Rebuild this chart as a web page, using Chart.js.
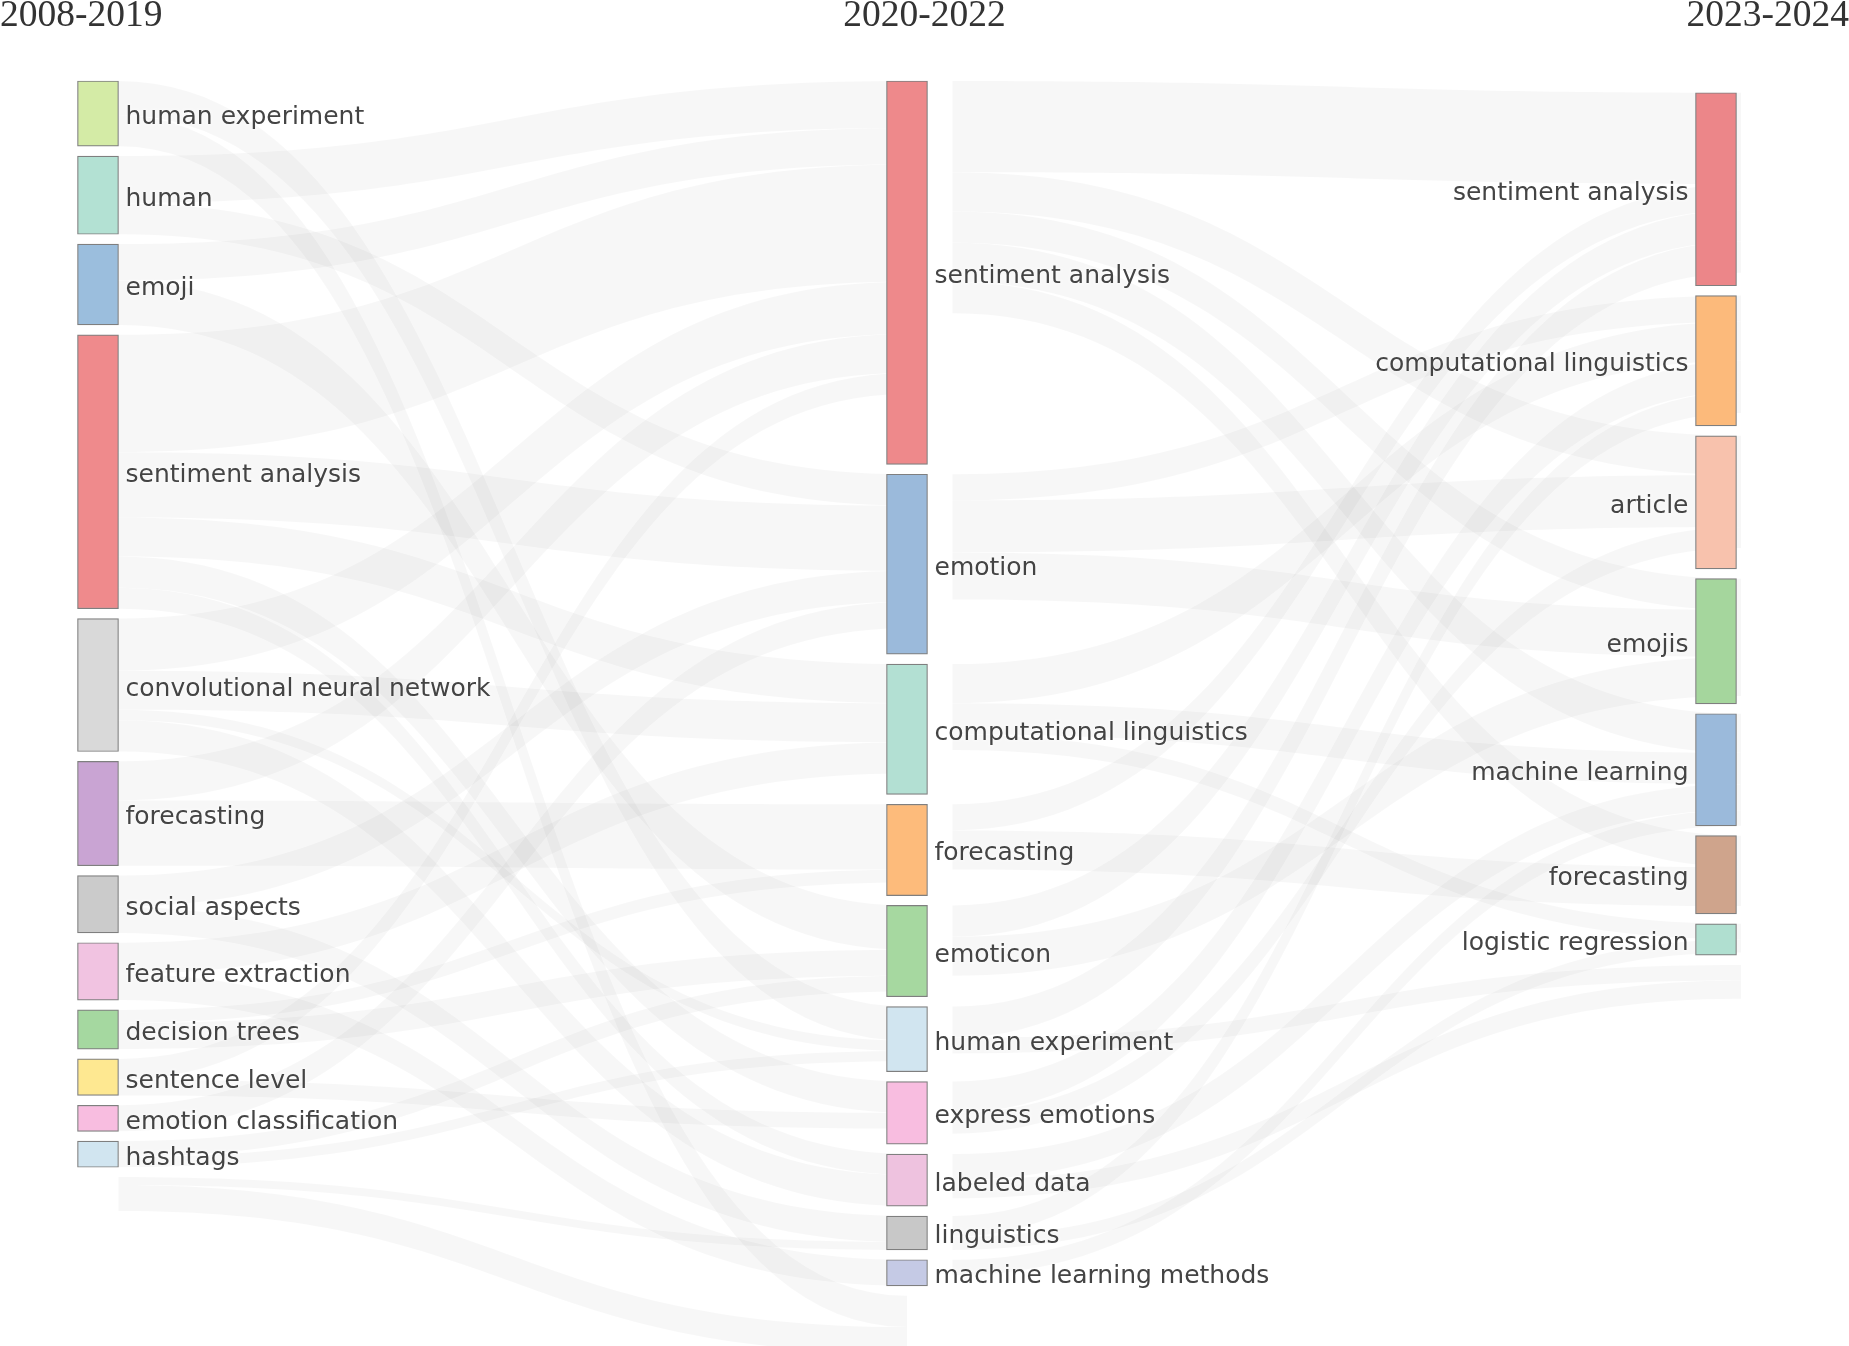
<!DOCTYPE html>
<html>
<head>
<meta charset="utf-8">
<title>Keyword evolution</title>
<script src="https://cdn.jsdelivr.net/npm/chart.js@4.4.1/dist/chart.umd.min.js"></script>
<style>
  html, body { margin: 0; padding: 0; background: #fff; }
  #wrap { width: 1849px; height: 1346px; }
</style>
</head>
<body>
<div id="wrap"><canvas id="myChart"></canvas></div>
<script>
"use strict";

// periods (one column each)
const periods = ["2008-2019", "2020-2022", "2023-2024"];

// keywords and their weights per period ("" = unlabelled spacer node)
const terms2008 = ["human experiment", "human", "emoji", "sentiment analysis", "convolutional neural network", "forecasting", "social aspects", "feature extraction", "decision trees", "sentence level", "emotion classification", "hashtags", ""];
const counts2008 = [25, 30, 31, 105, 51, 40, 22, 22, 15, 14, 10, 10, 14];

const terms2020 = ["sentiment analysis", "emotion", "computational linguistics", "forecasting", "emoticon", "human experiment", "express emotions", "labeled data", "linguistics", "machine learning methods", ""];
const counts2020 = [147, 69, 50, 35, 35, 25, 24, 20, 13, 10, 22];

const terms2023 = ["sentiment analysis", "computational linguistics", "article", "emojis", "machine learning", "forecasting", "logistic regression", ""];
const counts2023 = [74, 50, 51, 48, 43, 30, 12, 13];

// flows 2008-2019 -> 2020-2022
const flowsEarly = [
  ["human experiment", "human experiment", 13],
  ["human experiment", "", 12],
  ["human", "sentiment analysis", 18],
  ["human", "emotion", 12],
  ["emoji", "sentiment analysis", 14],
  ["emoji", "emoticon", 17],
  ["sentiment analysis", "sentiment analysis", 45],
  ["sentiment analysis", "emotion", 25],
  ["sentiment analysis", "computational linguistics", 15],
  ["sentiment analysis", "express emotions", 12],
  ["sentiment analysis", "labeled data", 8],
  ["convolutional neural network", "sentiment analysis", 20],
  ["convolutional neural network", "computational linguistics", 15],
  ["convolutional neural network", "human experiment", 4],
  ["convolutional neural network", "labeled data", 12],
  ["forecasting", "sentiment analysis", 15],
  ["forecasting", "forecasting", 25],
  ["social aspects", "emotion", 12],
  ["social aspects", "linguistics", 10],
  ["feature extraction", "computational linguistics", 12],
  ["feature extraction", "machine learning methods", 10],
  ["decision trees", "forecasting", 5],
  ["decision trees", "emoticon", 10],
  ["sentence level", "sentiment analysis", 8],
  ["sentence level", "express emotions", 6],
  ["emotion classification", "emotion", 10],
  ["hashtags", "emoticon", 6],
  ["hashtags", "human experiment", 4],
  ["", "linguistics", 3],
  ["", "", 10],
];

// flows 2020-2022 -> 2023-2024
const flowsLate = [
  ["sentiment analysis", "sentiment analysis", 35],
  ["sentiment analysis", "article", 15],
  ["sentiment analysis", "emojis", 12],
  ["sentiment analysis", "machine learning", 15],
  ["sentiment analysis", "forecasting", 12],
  ["emotion", "computational linguistics", 10],
  ["emotion", "article", 20],
  ["emotion", "emojis", 18],
  ["computational linguistics", "computational linguistics", 15],
  ["computational linguistics", "machine learning", 12],
  ["computational linguistics", "logistic regression", 6],
  ["forecasting", "sentiment analysis", 10],
  ["forecasting", "forecasting", 15],
  ["emoticon", "sentiment analysis", 12],
  ["emoticon", "emojis", 15],
  ["human experiment", "sentiment analysis", 12],
  ["human experiment", "", 6],
  ["express emotions", "computational linguistics", 12],
  ["express emotions", "article", 8],
  ["labeled data", "machine learning", 10],
  ["labeled data", "", 7],
  ["linguistics", "computational linguistics", 8],
  ["linguistics", "logistic regression", 5],
  ["machine learning methods", "machine learning", 6],
];

// node colours
const colors2008 = ["#d4eba6", "#b3e1d3", "#9bbedd", "#ef8a8c", "#d9d9d9", "#c9a4d3", "#cbcbcb", "#f1c3e1", "#a5d8a0", "#fee891", "#f8bde0", "#d1e5f0", "rgba(0,0,0,0)"];
const colors2020 = ["#ee898b", "#9bbadb", "#b3e0d3", "#fdbb7b", "#a6d8a0", "#d1e5f0", "#f8bde0", "#eec2df", "#c8c8c8", "#c5cae5", "rgba(0,0,0,0)"];
const colors2023 = ["#ec8689", "#fcba7b", "#f8c2ad", "#a5d69d", "#9bbadb", "#cfa48c", "#b0dfd0", "rgba(0,0,0,0)"];

const nodeWidth = 41;
const nodeGap = 3.77;
const columnTop = [0, 0, 4.5];
const linkStartPad = [0, 25, 0];
const linkEndShift = [0, 0, 25];
const labelDrop = 4;
const yMax = 485;

const columns = [
  { terms: terms2008, counts: counts2008, colors: colors2008 },
  { terms: terms2020, counts: counts2020, colors: colors2020 },
  { terms: terms2023, counts: counts2023, colors: colors2023 },
];

// stack nodes in each column
const nodes = [];
columns.forEach((c, col) => {
  let y = columnTop[col];
  c.terms.forEach((t, i) => {
    nodes.push({ col: col, name: t, y0: y, y1: y + c.counts[i], color: c.colors[i], out: [], in: [] });
    y += c.counts[i] + nodeGap;
  });
});

function findNode(col, name) {
  return nodes.find((n) => n.col === col && n.name === name);
}

const links = [];
[flowsEarly, flowsLate].forEach((flows, step) => {
  flows.forEach((f) => {
    const link = { source: findNode(step, f[0]), target: findNode(step + 1, f[1]), value: f[2] };
    link.source.out.push(link);
    link.target.in.push(link);
    links.push(link);
  });
});

// order ribbons at each node side by the position of the other end
nodes.forEach((n) => {
  let off = n.y0;
  n.out.sort((a, b) => a.target.y0 - b.target.y0).forEach((l) => {
    l.sy = off;
    off += l.value;
  });
  off = n.y0;
  n.in.sort((a, b) => a.source.y0 - b.source.y0).forEach((l) => {
    l.ty = off;
    off += l.value;
  });
});

const flowPlugin = {
  id: "flows",
  beforeDatasetsDraw(chart) {
    const ctx = chart.ctx;
    const x = chart.scales.x;
    const y = chart.scales.y;
    ctx.save();
    ctx.fillStyle = "rgba(0,0,0,0.032)";
    links.forEach((l) => {
      const x0 = x.getPixelForValue(l.source.col) + nodeWidth / 2 + linkStartPad[l.source.col];
      const x1 = x.getPixelForValue(l.target.col) + linkEndShift[l.target.col];
      const s0 = y.getPixelForValue(l.sy);
      const s1 = y.getPixelForValue(l.sy + l.value);
      const t0 = y.getPixelForValue(l.ty);
      const t1 = y.getPixelForValue(l.ty + l.value);
      const xm = (x0 + x1) / 2;
      ctx.beginPath();
      ctx.moveTo(x0, s0);
      ctx.bezierCurveTo(xm, s0, xm, t0, x1, t0);
      ctx.lineTo(x1, t1);
      ctx.bezierCurveTo(xm, t1, xm, s1, x0, s1);
      ctx.closePath();
      ctx.fill();
    });
    ctx.restore();
  },
  afterDatasetsDraw(chart) {
    const ctx = chart.ctx;
    const x = chart.scales.x;
    const y = chart.scales.y;
    ctx.save();
    ctx.font = '25px "DejaVu Sans"';
    ctx.fillStyle = "#444";
    ctx.textBaseline = "middle";
    ctx.shadowColor = "#fff";
    ctx.shadowBlur = 2;
    nodes.forEach((n) => {
      if (!n.name) return;
      const cx = x.getPixelForValue(n.col);
      const cy = (y.getPixelForValue(n.y0) + y.getPixelForValue(n.y1)) / 2 + labelDrop;
      if (n.col === 2) {
        ctx.textAlign = "right";
        ctx.fillText(n.name, cx - nodeWidth / 2 - 7, cy);
      } else {
        ctx.textAlign = "left";
        ctx.fillText(n.name, cx + nodeWidth / 2 + 7, cy);
      }
    });
    ctx.restore();

    // period headings
    ctx.save();
    ctx.font = '37.5px "Liberation Serif"';
    ctx.fillStyle = "#333";
    ctx.textBaseline = "alphabetic";
    ctx.textAlign = "left";
    ctx.fillText(periods[0], 0, 26);
    ctx.textAlign = "center";
    ctx.fillText(periods[1], chart.width / 2, 26);
    ctx.textAlign = "right";
    ctx.fillText(periods[2], chart.width, 26);
    ctx.restore();
  },
};

const ctx = document.getElementById("myChart");
const myChart = new Chart(ctx, {
  type: "bar",
  data: {
    datasets: [
      {
        label: "keywords",
        data: nodes.map((n) => ({ x: n.col, y: [n.y0, n.y1] })),
        backgroundColor: nodes.map((n) => n.color),
        borderColor: nodes.map((n) => (n.name ? "#7f7f7f" : "rgba(0,0,0,0)")),
        borderWidth: 1.2,
        borderSkipped: false,
        barThickness: nodeWidth,
        clip: false,
      },
    ],
  },
  options: {
    responsive: true,
    maintainAspectRatio: false,
    animation: false,
    layout: { padding: { left: 98, right: 133, top: 81, bottom: 0 } },
    plugins: {
      legend: { display: false },
      tooltip: { enabled: false },
    },
    scales: {
      x: { type: "linear", min: 0, max: 2, offset: false, display: false },
      y: { min: 0, max: yMax, reverse: true, display: false },
    },
  },
  plugins: [flowPlugin],
});
</script>
</body>
</html>
